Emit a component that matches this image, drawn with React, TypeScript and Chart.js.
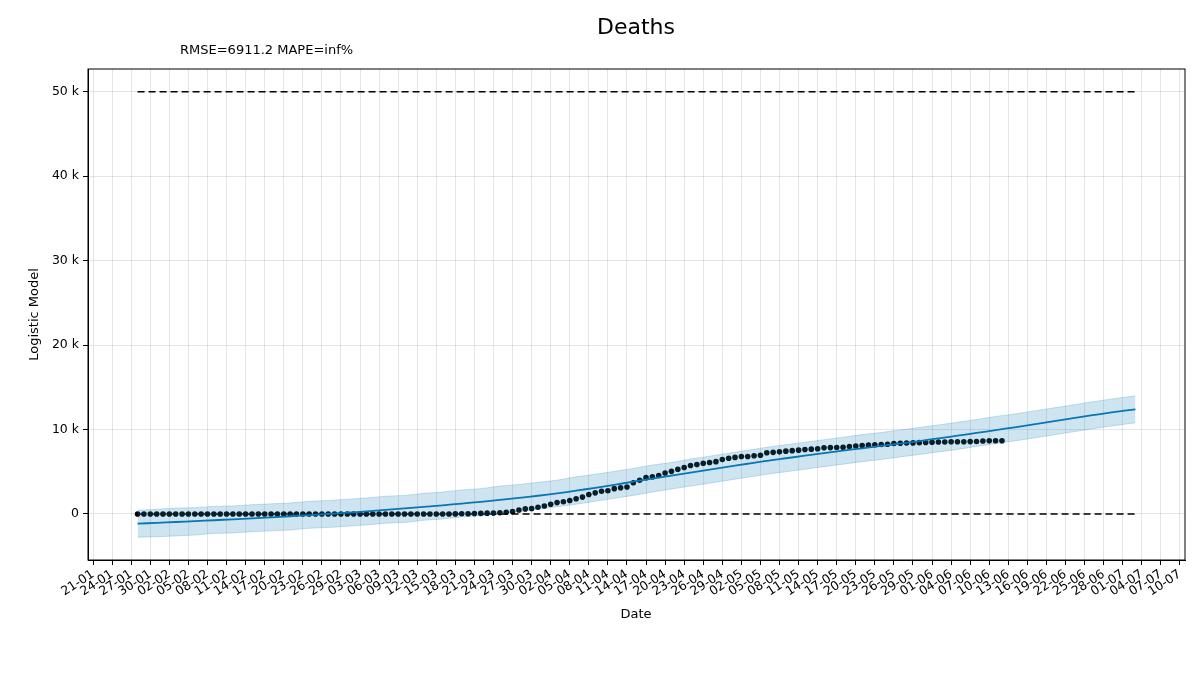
import React, { useEffect, useRef } from "react";
import { Chart, registerables } from "chart.js";
Chart.register(...registerables);

const baseDate = Date.UTC(2020, 0, 21);
const modelDays = [7,10,13,16,19,22,25,28,31,34,37,40,43,46,49,52,55,58,61,64,67,70,73,76,79,82,85,88,91,94,97,100,103,106,109,112,115,118,121,124,127,130,133,136,139,142,145,148,151,154,157,160,164];
const modelK = [-1.15,-1.05,-0.95,-0.85,-0.74,-0.63,-0.52,-0.40,-0.27,-0.14,0,0.15,0.31,0.48,0.66,0.84,1.03,1.23,1.44,1.66,1.9,2.16,2.44,2.76,3.1,3.46,3.82,4.18,4.54,4.9,5.25,5.6,5.95,6.3,6.6,6.9,7.2,7.5,7.78,8.06,8.34,8.64,8.95,9.27,9.6,9.93,10.27,10.62,10.97,11.32,11.67,12.0,12.4];
const upperK = [0.45,0.55,0.7,0.75,0.9,0.95,1.1,1.2,1.3,1.5,1.6,1.75,1.9,2.1,2.2,2.45,2.6,2.85,3.0,3.3,3.5,3.75,4.0,4.4,4.7,5.05,5.4,5.8,6.1,6.5,6.85,7.2,7.55,7.9,8.2,8.5,8.8,9.1,9.4,9.65,9.95,10.25,10.55,10.85,11.2,11.55,11.85,12.2,12.55,12.9,13.25,13.6,14.0];
const lowerK = [-2.75,-2.7,-2.6,-2.5,-2.3,-2.25,-2.1,-2.0,-1.9,-1.7,-1.6,-1.45,-1.3,-1.1,-1.0,-0.75,-0.6,-0.35,-0.2,0.05,0.3,0.55,0.85,1.15,1.5,1.85,2.2,2.6,2.95,3.3,3.65,4.0,4.35,4.7,5.0,5.3,5.6,5.9,6.2,6.45,6.75,7.05,7.35,7.65,8.0,8.35,8.65,9.0,9.35,9.7,10.05,10.4,10.8];
const firstObsDay = 7;
const observedK = [
  0,0,0,0,0,0,0,0,0,0,0,0,0,0,0,0,0,0,0,0,0,0,0,0,
  0,0,0,0,0,0,0,0,0,0,0,0,0,0,0,0,0,0,0,0,0,0,0,0,
  0,0,0.01,0.02,0.03,0.05,0.07,0.1,0.12,0.15,0.2,0.3,
  0.47,0.6,0.65,0.8,0.95,1.15,1.35,1.45,1.6,1.8,2.0,2.3,2.5,2.7,2.75,3.0,3.1,3.2,3.7,4.0,
  4.3,4.4,4.55,4.85,5.05,5.3,5.5,5.75,5.85,6.0,6.1,6.2,6.45,6.6,6.7,6.8,6.8,6.9,6.95,7.25,
  7.3,7.36,7.44,7.5,7.56,7.64,7.68,7.72,7.83,7.86,7.88,7.9,8.0,8.05,8.1,8.15,8.2,8.22,8.25,8.35,
  8.37,8.4,8.42,8.45,8.47,8.5,8.52,8.53,8.55,8.55,8.56,8.57,8.58,8.65,8.66,8.67,8.68
];
const capK = 50;
const refStart = 7;
const refEnd = 164;
const yTicks = [0, 10, 20, 30, 40, 50];
const xTickDays = Array.from({ length: 58 }, (_, i) => i * 3);

function fmtDay(d: number) {
  const dt = new Date(baseDate + d * 86400000);
  const dd = String(dt.getUTCDate()).padStart(2, "0");
  const mm = String(dt.getUTCMonth() + 1).padStart(2, "0");
  return `${dd}-${mm}`;
}

const textPlugin = {
  id: "texts",
  afterDraw(chart: any) {
    const ctx = chart.ctx;
    const a = chart.chartArea;
    ctx.save();
    ctx.strokeStyle = "#000";
    ctx.lineWidth = 1;
    ctx.strokeRect(a.left, a.top, a.right - a.left, a.bottom - a.top);
    ctx.fillStyle = "#000";
    ctx.textAlign = "center";
    ctx.textBaseline = "middle";
    ctx.font = "22px 'DejaVu Sans'";
    ctx.fillText("Deaths", 636, 28);
    ctx.font = "13px 'DejaVu Sans'";
    ctx.textAlign = "left";
    ctx.fillText("RMSE=6911.2 MAPE=inf%", 180, 51);
    ctx.textAlign = "center";
    ctx.fillText("Date", 636, 615);
    ctx.translate(35, (a.top + a.bottom) / 2);
    ctx.rotate(-Math.PI / 2);
    ctx.fillText("Logistic Model", 0, 0);
    ctx.restore();
  },
};

export default function App() {
  const ref = useRef<HTMLCanvasElement>(null);
  useEffect(() => {
    document.body.style.margin = "0";
    const pts = (days: number[], vals: number[]) => vals.map((v, i) => ({ x: days[i], y: v }));
    const chart = new Chart(ref.current!, {
      type: "line",
      data: {
        datasets: [
          { data: pts(modelDays, lowerK), borderColor: "rgba(0,114,178,0.2)", borderWidth: 1, pointRadius: 0, fill: false },
          { data: pts(modelDays, upperK), borderColor: "rgba(0,114,178,0.2)", borderWidth: 1, pointRadius: 0, fill: "-1", backgroundColor: "rgba(31,130,190,0.22)" },
          { data: pts(modelDays, modelK), borderColor: "#0072B2", borderWidth: 1.8, pointRadius: 0, tension: 0.3, fill: false },
          { data: observedK.map((v, i) => ({ x: firstObsDay + i, y: v })), showLine: false, pointRadius: 2.8, pointBackgroundColor: "#000", pointBorderWidth: 0, borderColor: "#000" },
          { data: [{ x: refStart, y: capK }, { x: refEnd, y: capK }], borderColor: "#000", borderDash: [7, 4], borderWidth: 1.6, pointRadius: 0 },
          { data: [{ x: refStart, y: 0 }, { x: refEnd, y: 0 }], borderColor: "#000", borderDash: [7, 4], borderWidth: 1.6, pointRadius: 0 },
        ],
      },
      options: {
        animation: false,
        responsive: false,
        layout: { padding: { top: 69, right: 15, left: 0, bottom: 0 } },
        plugins: { legend: { display: false }, tooltip: { enabled: false } },
        scales: {
          x: {
            type: "linear",
            min: -0.8,
            max: 171.8,
            afterBuildTicks: (s: any) => { s.ticks = xTickDays.map((v) => ({ value: v })); },
            afterFit: (s: any) => { s.height = 140; },
            ticks: { callback: (v: any) => fmtDay(Number(v)), minRotation: 33, maxRotation: 33, color: "#000", font: { family: "DejaVu Sans", size: 12.5 }, autoSkip: false, padding: 2 },
            grid: { color: "rgba(0,0,0,0.1)", tickColor: "#000", tickLength: 5 },
            border: { color: "#000" },
          },
          y: {
            type: "linear",
            min: -5.45,
            max: 52.7,
            afterBuildTicks: (s: any) => { s.ticks = yTicks.map((v) => ({ value: v })); },
            afterFit: (s: any) => { s.width = 88; },
            ticks: { callback: (v: any) => (Number(v) === 0 ? "0" : `${v} k`), color: "#000", font: { family: "DejaVu Sans", size: 12.5 }, padding: 4 },
            grid: { color: "rgba(0,0,0,0.1)", tickColor: "#000", tickLength: 5 },
            border: { color: "#000" },
          },
        },
      },
      plugins: [textPlugin],
    });
    return () => chart.destroy();
  }, []);
  return <canvas ref={ref} width={1200} height={700} style={{ display: "block" }} />;
}
